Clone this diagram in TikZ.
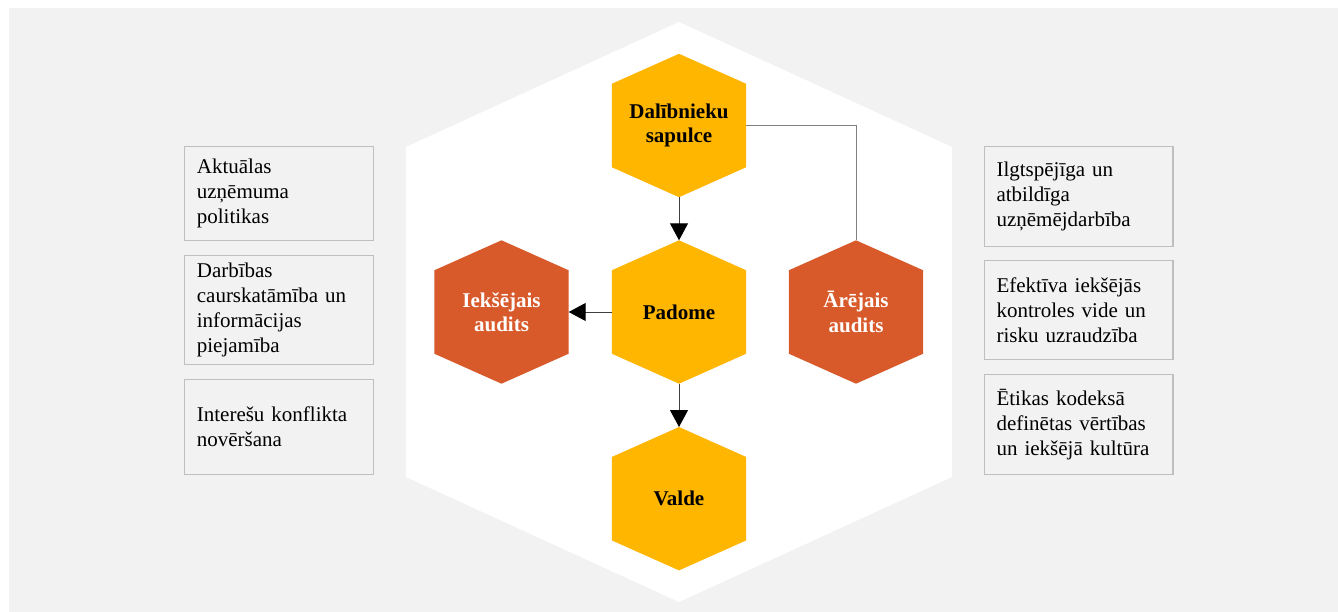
\documentclass[tikz,border=0pt]{standalone}
\usepackage{fontspec}
\setmainfont{Liberation Serif}
\usetikzlibrary{arrows.meta,positioning}
\pgfdeclarelayer{background}
\pgfsetlayers{background,main}
\definecolor{bgc}{HTML}{F2F2F2}
\definecolor{goldc}{HTML}{FFB600}
\definecolor{rustc}{HTML}{D85A2B}
\definecolor{boxline}{HTML}{BFBFBF}
\definecolor{arrc}{HTML}{3F3F3F}
\definecolor{connc}{HTML}{808080}
\tikzset{
  hexnode/.style={minimum width=134pt, minimum height=143pt, inner sep=0pt, align=center,
    font=\bfseries\fontsize{21}{24.5}\selectfont},
  goldhex/.style={hexnode, text=black},
  rusthex/.style={hexnode, text=white},
  tbox/.style={draw=boxline, fill=bgc, line width=1.1pt, anchor=north west,
    inner xsep=12pt, inner ysep=2pt, text width=164.4pt, align=left,
    font=\fontsize{21}{25}\selectfont},
  arr/.style={draw=arrc, line width=1pt, -{Triangle[length=17pt,width=18pt,color=black]}},
  conn/.style={draw=connc, line width=1pt}
}
\begin{document}
\begin{tikzpicture}[x=1pt,y=-1pt]
\useasboundingbox (0,0) rectangle (1338,612);
% hexagon nodes
\node[goldhex] (dal) at (679,125.5) {Dalībnieku\\sapulce};
\node[goldhex] (pad) at (679,312) {Padome};
\node[goldhex] (val) at (679,498.7) {Valde};
\node[rusthex] (iek) at (501.5,312) {Iekšējais\\audits};
\node[rusthex] (are) at (856,312) {Ārējais\\audits};
% text boxes
\node[tbox, minimum height=94.3pt] (l1) at (184.3,145.7) {Aktuālas\\uzņēmuma\\politikas};
\node[tbox, minimum height=109.3pt] (l2) at (184.3,255) {Darbības\\caurskatāmība un\\informācijas\\piejamība};
\node[tbox, minimum height=95pt] (l3) at (184.3,379) {Interešu konflikta\\novēršana};
\node[tbox, minimum height=100pt] (r1) at (984,145.7) {Ilgtspējīga un\\atbildīga\\uzņēmējdarbība};
\node[tbox, minimum height=99.3pt] (r2) at (984,260) {Efektīva iekšējās\\kontroles vide un\\risku uzraudzība};
\node[tbox, minimum height=99.7pt] (r3) at (984,374.3) {Ētikas kodeksā\\definētas vērtības\\un iekšējā kultūra};
% background, big hexagon, small hexagon fills
\begin{pgfonlayer}{background}
\fill[bgc] (9,8) rectangle (1338,612);
\fill[white] (679,22) -- (952,147) -- (952,477) -- (679,602) -- (406,477) -- (406,147) -- cycle;
\foreach \n/\c in {dal/goldc,pad/goldc,val/goldc,iek/rustc,are/rustc}{
  \fill[\c] (\n.north) -- ([yshift=-30pt]\n.north east) -- ([yshift=30pt]\n.south east)
    -- (\n.south) -- ([yshift=30pt]\n.south west) -- ([yshift=-30pt]\n.north west) -- cycle;
}
\end{pgfonlayer}
% connectors
\draw[arr] (dal.south) -- (pad.north);
\draw[arr] (pad.south) -- (val.north);
\draw[arr] (pad.west) -- (iek.east);
\draw[conn] (dal.east) -| (are.north);
\end{tikzpicture}
\end{document}
